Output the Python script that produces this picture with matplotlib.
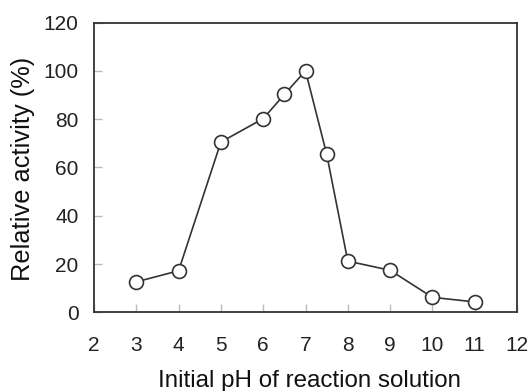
import matplotlib
matplotlib.use("Agg")
import matplotlib.pyplot as plt

ph = [3, 4, 5, 6, 6.5, 7, 7.5, 8, 9, 10, 11]
activity = [12.6, 17.2, 70.5, 80.2, 90.2, 100, 65.5, 21.2, 17.4, 6.2, 4.3]
xticks = [2, 3, 4, 5, 6, 7, 8, 9, 10, 11, 12]
yticks = [0, 20, 40, 60, 80, 100, 120]

plt.rcParams['font.family'] = ['Liberation Sans', 'DejaVu Sans']

fig = plt.figure(figsize=(5.32, 3.91), dpi=100)
ax = fig.add_axes([94/532, 1 - 312.3/391, (517-94)/532, (312.3-22.5)/391])

ax.plot(ph, activity, color='#333333', lw=1.2, marker='o', ms=10,
        mfc='white', mec='#333333', mew=1.2, zorder=3)

ax.set_xlim(2, 12)
ax.set_ylim(0, 120)
ax.set_xticks(xticks)
ax.set_yticks(yticks)
ax.tick_params(direction='in', length=6, width=1, color='#bbbbbb',
               labelsize=15, labelcolor='#222222')
ax.tick_params(axis='x', pad=17)
ax.tick_params(axis='y', pad=11)
for s in ax.spines.values():
    s.set_color('#333333')
    s.set_linewidth(1.3)

ax.set_xlabel('Initial pH of reaction solution', fontsize=17.4, color='#111111')
ax.set_ylabel('Relative activity (%)', fontsize=18.3, color='#111111')
ax.xaxis.set_label_coords((310 - 94) / (517 - 94), -(381 - 312.3) / (312.3 - 22.5))
ax.yaxis.set_label_coords(-(94 - 23) / (517 - 94), (312.3 - 169) / (312.3 - 22.5))
ax.xaxis.label.set_va('center')
ax.yaxis.label.set_va('center')

fig.savefig('out.png', dpi=100)
